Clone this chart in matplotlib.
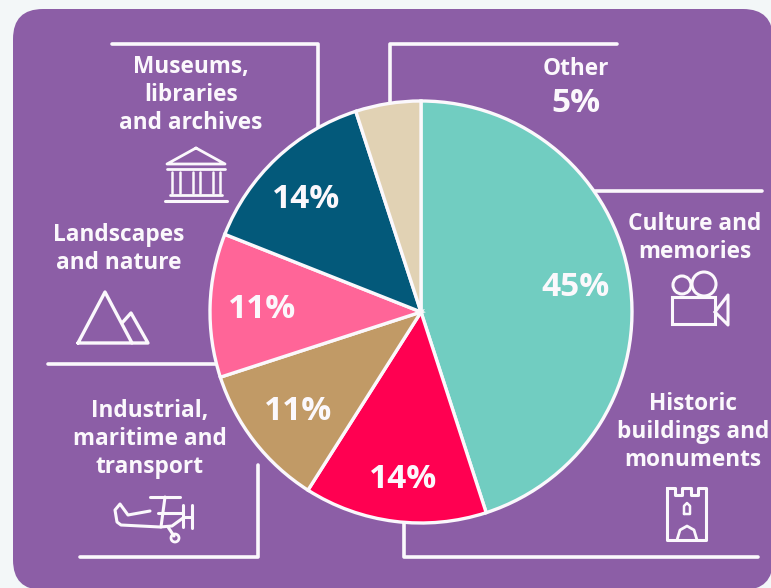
import matplotlib
matplotlib.use('Agg')
import matplotlib.pyplot as plt
from matplotlib.patches import FancyBboxPatch, Circle, Rectangle

plt.rcParams['font.family'] = ['Open Sans', 'DejaVu Sans']

categories = ['Culture and memories', 'Historic buildings and monuments',
              'Industrial, maritime and transport', 'Landscapes and nature',
              'Museums, libraries and archives', 'Other']
shares = [45, 14, 11, 11, 14, 5]
slice_colors = ['#71CDC1', '#FF0051', '#C19A66', '#FF6598', '#03597A', '#E1D2B4']
pct_labels = ['45%', '14%', '11%', '11%', '14%']
pct_pos = [(575, 288), (403, 479), (298, 412), (262, 310), (306, 199)]

WHITE = '#FBF8FC'
PURPLE = '#8C5EA6'
H = 588


def Y(y):
    return H - y


def line(ax, pts, lw=2.6, color=WHITE):
    ax.plot([p[0] for p in pts], [Y(p[1]) for p in pts], color=color, lw=lw,
            solid_capstyle='round', solid_joinstyle='round', zorder=2)


def label(ax, x, y, s, size=16.3):
    ax.text(x, Y(y), s, color=WHITE, fontsize=size, fontweight='bold', ha='center',
            va='center', linespacing=1.2, zorder=5)


def draw_museum(ax):
    line(ax, [(196, 148), (167, 164), (225, 164), (196, 148)], 2)
    line(ax, [(167, 169), (225, 169)], 2)
    for x in [172, 180, 193, 200, 213, 220]:
        line(ax, [(x, 172), (x, 193)], 1.8)
    line(ax, [(170, 195), (222, 195)], 2)
    line(ax, [(165, 201), (227, 201)], 2.2)


def draw_mountain(ax):
    line(ax, [(78, 343), (105, 292), (132, 343), (78, 343)], 2.4)
    line(ax, [(122, 323), (131, 313), (148, 343), (132, 343)], 2.4)


def draw_camera(ax):
    ax.add_patch(Circle((682, Y(285)), 9, fill=False, ec=WHITE, lw=2.2, zorder=3))
    ax.add_patch(Circle((704, Y(284)), 12, fill=False, ec=WHITE, lw=2.2, zorder=3))
    ax.add_patch(Rectangle((672, Y(324)), 43, 27, fill=False, ec=WHITE, lw=2.2, zorder=3))
    line(ax, [(715, 312), (728, 295), (728, 325), (715, 312)], 2.2)


def draw_tower(ax):
    line(ax, [(667, 488), (667, 540), (706, 540), (706, 488), (698, 488), (698, 495),
              (691, 495), (691, 488), (682, 488), (682, 495), (675, 495), (675, 488),
              (667, 488)], 2.2)
    line(ax, [(677, 540), (680, 530), (687, 526), (694, 530), (697, 540)], 2)
    line(ax, [(684, 514), (684, 506), (687, 503), (690, 506), (690, 514), (684, 514)], 1.8)


def draw_plane(ax):
    line(ax, [(150, 511), (128, 515), (120, 504), (115, 510), (117, 522), (121, 525),
              (160, 527), (172, 526), (183, 518)], 2.2)
    line(ax, [(150, 497), (180, 497)], 2.2)
    line(ax, [(165, 497), (161, 527)], 2.2)
    line(ax, [(158, 513), (183, 513)], 2.2)
    line(ax, [(183, 505), (183, 527)], 2.2)
    line(ax, [(192, 505), (192, 528)], 2.2)
    line(ax, [(183, 517), (192, 517)], 2.2)
    line(ax, [(168, 527), (174, 536)], 2.2)
    ax.add_patch(Circle((175, Y(538)), 4, fill=False, ec=WHITE, lw=2, zorder=3))


def main():
    fig = plt.figure(figsize=(7.71, 5.88), dpi=100, facecolor='#F3F7F8')
    ax = fig.add_axes([0, 0, 1, 1])
    ax.set_xlim(0, 771)
    ax.set_ylim(0, H)
    ax.axis('off')

    # panel stops right at the bottom edge, corners still show
    ax.add_patch(FancyBboxPatch((13, -2), 760, Y(9) + 2, boxstyle='round,pad=0,rounding_size=30',
                                fc=PURPLE, ec='none', zorder=0))

    # frames round the labels
    line(ax, [(112, 44), (318, 44), (318, 135)])
    line(ax, [(617, 44), (390, 44), (390, 110)])
    line(ax, [(595, 191), (762, 191)])
    line(ax, [(404, 520), (404, 557), (758, 557)])
    line(ax, [(80, 557), (258, 557), (258, 465)])
    line(ax, [(48, 364), (228, 364)])

    ax.pie(shares, colors=slice_colors, startangle=90, counterclock=False,
           center=(421, Y(312)), radius=211, frame=False,
           wedgeprops={'edgecolor': WHITE, 'linewidth': 2.4, 'zorder': 4})
    ax.set_xlim(0, 771)
    ax.set_ylim(0, H)
    ax.set_aspect('auto')
    for t, p in zip(pct_labels, pct_pos):
        ax.text(p[0], Y(p[1]), t, color=WHITE, fontsize=24, fontweight='bold',
                ha='center', va='center', zorder=6)

    label(ax, 191, 95, 'Museums,\nlibraries\nand archives')
    label(ax, 576, 69, 'Other')
    label(ax, 576, 103, '5%', 24)
    label(ax, 695, 238, 'Culture and\nmemories')
    label(ax, 693, 432, 'Historic\nbuildings and\nmonuments')
    label(ax, 150, 439, 'Industrial,\nmaritime and\ntransport')
    label(ax, 119, 249, 'Landscapes\nand nature')

    draw_museum(ax)
    draw_mountain(ax)
    draw_camera(ax)
    draw_tower(ax)
    draw_plane(ax)

    fig.savefig('out.png', dpi=100, facecolor=fig.get_facecolor())


if __name__ == '__main__':
    main()
